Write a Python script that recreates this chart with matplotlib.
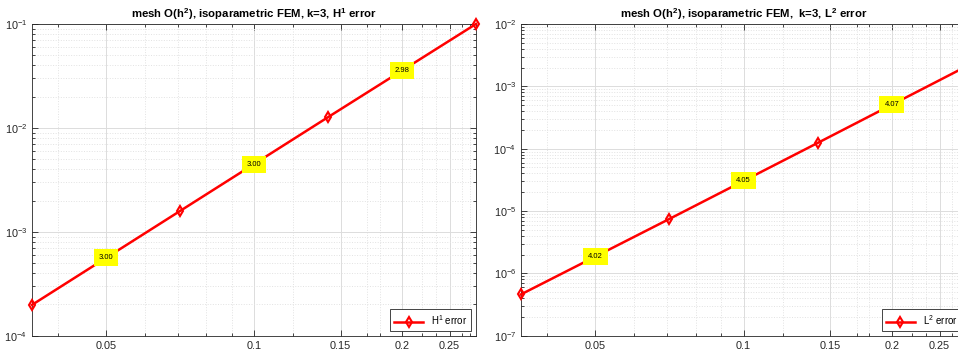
import numpy as np
import matplotlib
matplotlib.use('Agg')
import matplotlib.pyplot as plt
from matplotlib.ticker import FixedLocator, LogLocator, NullFormatter, LogFormatterMathtext

# mesh sizes and errors for k=3, isoparametric FEM
h = [0.035355, 0.070711, 0.141421, 0.282843]
errH1 = [1.98e-4, 1.585e-3, 1.268e-2, 1.001e-1]
errL2 = [4.60e-7, 7.46e-6, 1.236e-4, 2.077e-3]

xticks = [0.05, 0.1, 0.15, 0.2, 0.25]
xminor = [0.04, 0.06, 0.07, 0.08, 0.09, 0.12, 0.17, 0.18, 0.22, 0.235, 0.265, 0.275]

titles = ['mesh O(h$^{\\mathbf{2}}$), isoparametric FEM, k=3, H$^{\\mathbf{1}}$ error',
          'mesh O(h$^{\\mathbf{2}}$), isoparametric FEM,  k=3, L$^{\\mathbf{2}}$ error']
labels = ['H$^1$ error', 'L$^2$ error']
ylims = [(1e-4, 1e-1), (1e-7, 1e-2)]

plt.rcParams['font.family'] = 'Liberation Sans'
plt.rcParams['mathtext.fontset'] = 'custom'
plt.rcParams['mathtext.rm'] = 'Liberation Sans'
plt.rcParams['mathtext.it'] = 'Liberation Sans'
plt.rcParams['mathtext.bf'] = 'Liberation Sans:bold'

fig = plt.figure(figsize=(9.58, 3.56), dpi=100)
W, H = 958.0, 356.0
ax1 = fig.add_axes([32 / W, (H - 335.7) / H, 444 / W, 311.7 / H])
ax2 = fig.add_axes([521 / W, (H - 335.7) / H, 445 / W, 311.7 / H])

dark = '#262626'
for ax, err, ttl, lab, yl in zip([ax1, ax2], [errH1, errL2], titles, labels, ylims):
    ax.set_xscale('log')
    ax.set_yscale('log')
    ax.plot(h, err, color='r', lw=1.8, marker='d', markersize=5.5,
            markerfacecolor='none', markeredgewidth=1.5, label=lab, zorder=3,
            clip_on=False)

    # convergence rate between consecutive meshes
    for i in range(len(h) - 1):
        rate = np.log(err[i + 1] / err[i]) / np.log(h[i + 1] / h[i])
        xm = np.sqrt(h[i] * h[i + 1])
        ym = np.sqrt(err[i] * err[i + 1])
        ax.text(xm, ym, '%.2f' % rate, fontsize=5.5, ha='center', va='center',
                color='k', zorder=4,
                bbox=dict(boxstyle='square,pad=0.65', facecolor='yellow', edgecolor='none'))

    ax.set_xlim(h[0], h[-1])
    ax.set_ylim(*yl)
    ax.xaxis.set_major_locator(FixedLocator(xticks))
    ax.set_xticklabels(['%g' % t for t in xticks])
    ax.xaxis.set_minor_locator(FixedLocator(xminor))
    ax.xaxis.set_minor_formatter(NullFormatter())
    ax.yaxis.set_major_locator(LogLocator(base=10, numticks=20))
    ax.yaxis.set_major_formatter(LogFormatterMathtext())
    ax.yaxis.set_minor_locator(LogLocator(base=10, subs=np.arange(2, 10), numticks=20))
    ax.yaxis.set_minor_formatter(NullFormatter())

    ax.grid(True, which='major', color='#dcdcdc', lw=0.7, ls='-')
    ax.grid(True, which='minor', color='#e2e2e2', lw=0.7, ls=':')
    ax.set_axisbelow(True)
    ax.tick_params(which='both', direction='in', top=True, right=True,
                   colors=dark, labelsize=7.8, width=0.6)
    ax.tick_params(which='major', length=4)
    ax.tick_params(which='minor', length=2.5)
    for s in ax.spines.values():
        s.set_color(dark)
        s.set_linewidth(0.6)

    ax.set_title(ttl, fontsize=8.2, fontweight='bold', pad=4)
    leg = ax.legend(loc='lower right', fontsize=7, fancybox=False, framealpha=1,
                    edgecolor=dark, borderaxespad=0.5, handlelength=3)
    leg.get_frame().set_linewidth(0.6)

fig.savefig('out.png', dpi=100)
